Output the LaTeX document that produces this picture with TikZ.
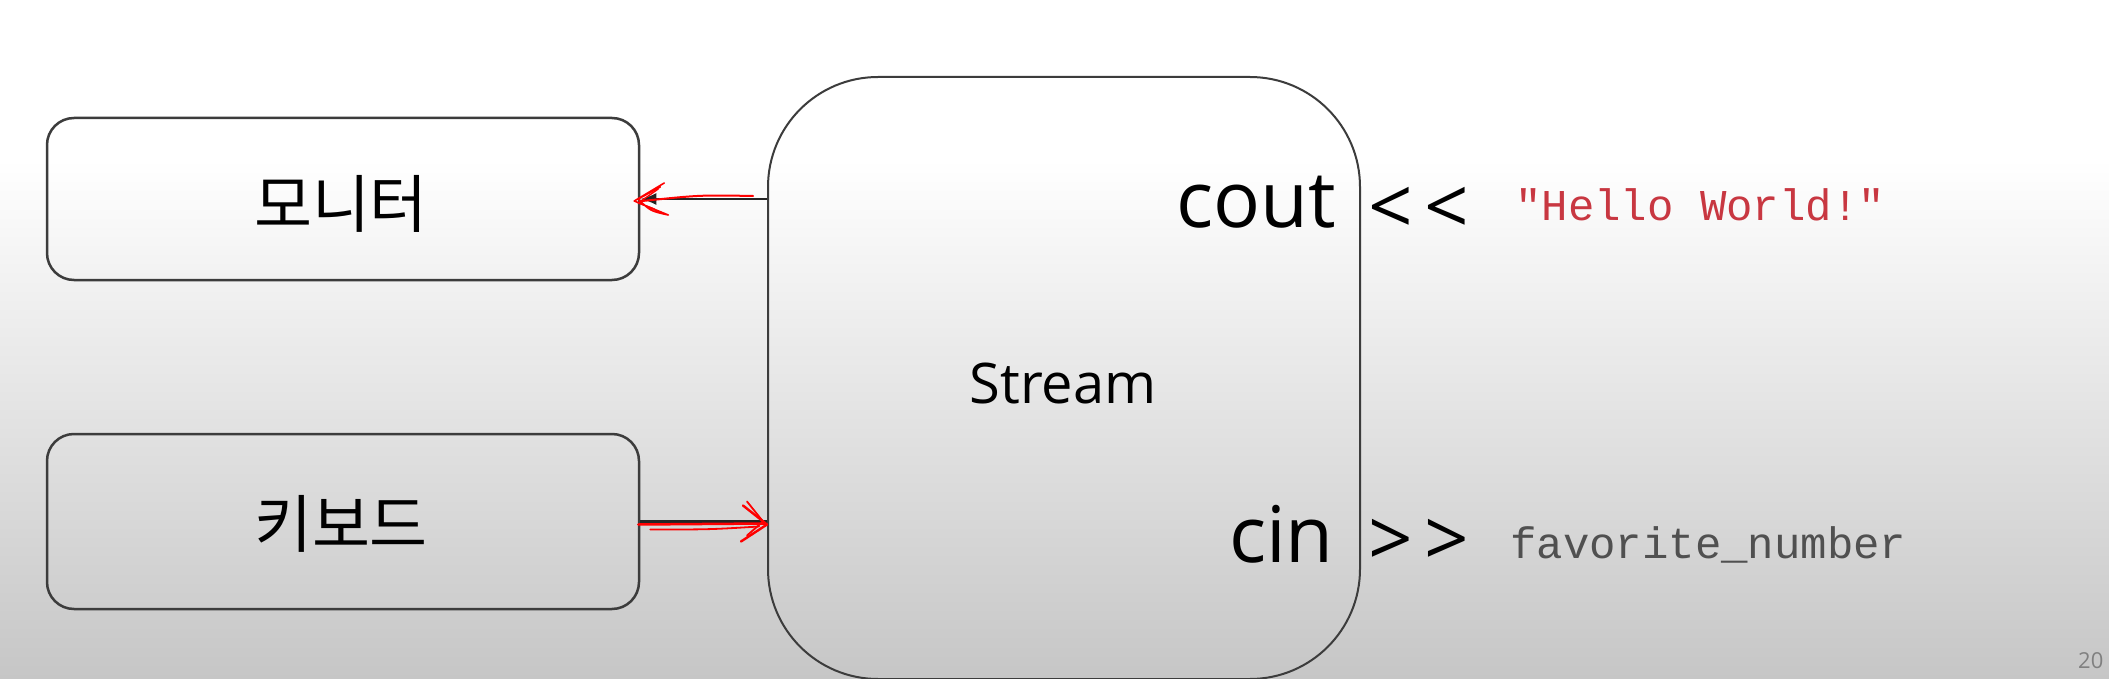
\documentclass[tikz,border=0pt]{standalone}
\usepackage{fontspec}
\setmainfont{Open Sans}
\newfontfamily\kr{Noto Sans CJK KR}
\newfontfamily\mono{Liberation Mono}
\usetikzlibrary{calc,arrows.meta}
\definecolor{edge}{RGB}{60,60,60}
\definecolor{hello}{RGB}{200,55,65}
\definecolor{codegray}{RGB}{80,80,80}
\definecolor{bgbottom}{RGB}{198,198,198}
\begin{document}
\begin{tikzpicture}[x=1pt,y=-1pt,
  box/.style={draw=edge, line width=2.5pt, rounded corners=27pt, minimum width=592pt},
  krtext/.style={font=\kr\fontsize{63}{66}\selectfont, inner sep=0pt},
  big/.style={font=\fontsize{78}{80}\selectfont, inner sep=0pt},
  code/.style={font=\mono\fontsize{44}{46}\selectfont, inner sep=0pt},
  redpen/.style={red, line width=2pt, line cap=round, line join=round}]
\useasboundingbox (0,0) rectangle (2109,679);
\fill[white] (0,0) rectangle (2109,160);
\shade[top color=white, bottom color=bgbottom] (0,159) rectangle (2109,679);

\node[box, minimum height=162pt] (monitor) at (343,199) {};
\node[box, minimum height=175pt] (keyboard) at (343,521.5) {};
\node[krtext] (monitorlabel) at (341,204) {모니터};
\node[krtext] (keyboardlabel) at (341,524) {키보드};
\node[draw=edge, line width=2pt, rounded corners=110pt, minimum width=592pt, minimum height=602pt] (stream) at (1064,378) {};
\node[anchor=base, font=\fontsize{56}{60}\selectfont, inner sep=0pt] (slabel) at (1063,403) {Stream};

\node[big, anchor=base east] (cout) at (1336,228) {cout};
\node[big, anchor=base east] (cin) at (1334,562) {cin};
\node[big, anchor=center] (ltlt) at (1419,211) {<\kern12pt<};
\node[big, anchor=center] (gtgt) at (1419,543) {>\kern12pt>};
\node[code, anchor=base west, text=hello] (hello) at (1515,220) {"Hello World!"};
\node[code, anchor=base west, text=codegray] (fav) at (1510,558) {favorite\_number};
\node[anchor=north west, text=gray, font=\fontsize{22}{24}\selectfont, inner sep=0pt] (page) at (2078,652) {20};

% black connectors
\draw[edge!60!black, line width=2.5pt, -{Latex[length=16pt,width=12pt]}] (stream.west |- monitor.east) -- (monitor.east);
\draw[edge!60!black, line width=2.5pt] (keyboard.east) -- (keyboard.east -| stream.west);

% red hand-drawn overlay (monitor arrow)
\draw[redpen] ($(stream.west |- monitor.east)+(-14,-3)$) .. controls ($(monitor.east)+(60,-4)$) .. ($(monitor.east)+(2,2)$);
\draw[redpen, line width=1.6pt] ($(monitor.east)+(24,-16)$) -- ($(monitor.east)+(-6,2)$) -- ($(monitor.east)+(28,16)$)
  .. controls ($(monitor.east)+(10,12)$) .. ($(monitor.east)+(-2,0)$)
  -- ($(monitor.east)+(20,-12)$);
\draw[redpen, line width=1.4pt] ($(monitor.east)+(18,-10)$) -- ($(monitor.east)+(-2,4)$) -- ($(monitor.east)+(14,10)$);

% red hand-drawn overlay (keyboard arrow)
\draw[redpen, line width=2.5pt] ($(keyboard.east)+(-2,3)$) -- ($(keyboard.east -| stream.west)+(-2,2)$);
\draw[redpen, line width=1.8pt] ($(keyboard.east)+(10,8)$) .. controls ($(keyboard.east)+(70,8)$) .. ($(keyboard.east -| stream.west)+(-8,5)$);
\draw[redpen, line width=2.4pt] ($(keyboard.east -| stream.west)+(-24,-16)$) -- ($(keyboard.east -| stream.west)+(0,3)$) -- ($(keyboard.east -| stream.west)+(-26,20)$);
\draw[redpen, line width=1.8pt] ($(keyboard.east -| stream.west)+(-20,-20)$) -- ($(keyboard.east -| stream.west)+(-4,0)$) -- ($(keyboard.east -| stream.west)+(-20,14)$);
\end{tikzpicture}
\end{document}
